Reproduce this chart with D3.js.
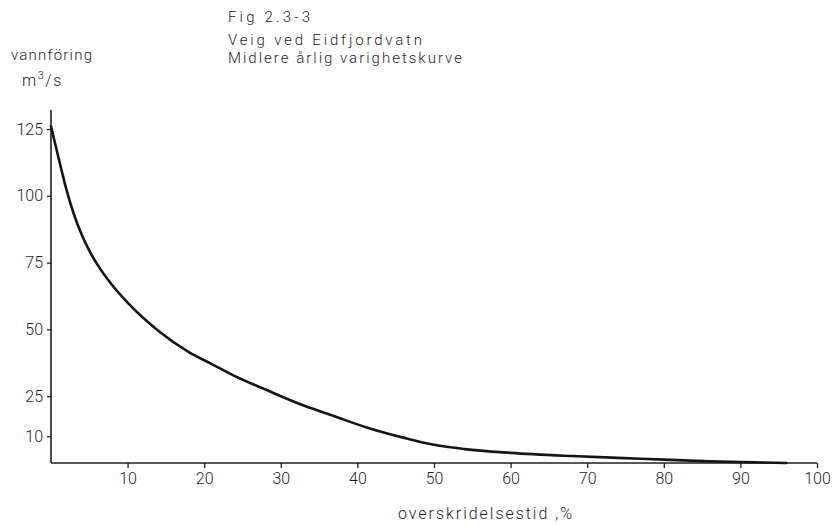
<!DOCTYPE html>
<html>
<head>
<meta charset="utf-8">
<script src="https://cdn.jsdelivr.net/npm/d3@7"></script>
<style>
  html, body { margin: 0; padding: 0; background: #fff; }
  svg { display: block; }
  text { font-family: Roboto, "DejaVu Sans", sans-serif; fill: #1e1e1e; }
</style>
</head>
<body>
<script>
// Duration curve: share of time a flow is exceeded (%) against flow (m3/s)
const exceedancePct = [0, 1, 2, 3, 4, 5, 6, 8, 10, 14, 18, 21, 24, 28, 33, 37, 41, 46, 50, 54, 60, 68, 77, 86, 96];
const flowM3s      = [126, 114, 102.5, 93, 85.5, 79.5, 74.5, 66.5, 60, 49.5, 41.5, 37, 32.5, 27.5, 21.5, 17.5, 13.5, 9.5, 6.8, 5.2, 3.8, 2.6, 1.6, 0.6, 0];

const xTicks = [10, 20, 30, 40, 50, 60, 70, 80, 90, 100];
const yTicks = [10, 25, 50, 75, 100, 125];

const titleLines = ["Fig 2.3-3", "Veig ved Eidfjordvatn", "Midlere årlig varighetskurve"];
const yLabel = "vannföring";
const xLabel = "overskridelsestid ,%";

const W = 832, H = 525;
const svg = d3.select("body").append("svg").attr("width", W).attr("height", H);

const x = d3.scaleLinear().domain([0, 100]).range([51, 817]);
const y = d3.scaleLinear().domain([0, 125]).range([463, 129]);

const ink = "#1e1e1e";

// Axes
const xAxis = d3.axisBottom(x).tickValues(xTicks).tickSize(5).tickPadding(5).tickSizeOuter(0);
const gx = svg.append("g").attr("transform", `translate(0,${y(0)})`).call(xAxis);
gx.select(".domain").remove();
gx.selectAll(".tick line").attr("stroke", ink).attr("stroke-width", 1.3);
gx.selectAll(".tick text").attr("font-size", 16).attr("font-weight", 300).attr("fill", ink);

const yAxis = d3.axisLeft(y).tickValues(yTicks).tickSize(4).tickPadding(4).tickSizeOuter(0);
const gy = svg.append("g").attr("transform", `translate(${x(0)},0)`).call(yAxis);
gy.select(".domain").remove();
gy.selectAll(".tick line").attr("stroke", ink).attr("stroke-width", 1.3);
gy.selectAll(".tick text").attr("font-size", 16).attr("font-weight", 300).attr("fill", ink);

// Axis lines
svg.append("line")
  .attr("x1", x(0)).attr("x2", x(100)).attr("y1", y(0)).attr("y2", y(0))
  .attr("stroke", ink).attr("stroke-width", 1.6);
svg.append("line")
  .attr("x1", x(0)).attr("x2", x(0)).attr("y1", 110).attr("y2", y(0))
  .attr("stroke", ink).attr("stroke-width", 1.6);

// Curve
const pts = exceedancePct.map((p, i) => [p, flowM3s[i]]);
svg.append("path")
  .datum(pts)
  .attr("fill", "none")
  .attr("stroke", "#151515")
  .attr("stroke-width", 2.6)
  .attr("stroke-linecap", "round")
  .attr("d", d3.line().x(d => x(d[0])).y(d => y(d[1])).curve(d3.curveMonotoneX));

// Lettering helper: text stretched by spacing to a fixed width
function letter(xPos, yPos, size, width, str) {
  return svg.append("text")
    .attr("x", xPos).attr("y", yPos)
    .attr("font-size", size).attr("font-weight", 300)
    .attr("textLength", width).attr("lengthAdjust", "spacing")
    .text(str);
}

// Title block
letter(228, 22, 15, 82, titleLines[0]);
letter(228, 45, 15, 194, titleLines[1]);
letter(228, 63, 15, 234, titleLines[2]);

// Y-axis label and unit
letter(11, 60, 15, 81, yLabel);
const unit = svg.append("text").attr("x", 22).attr("y", 86)
  .attr("font-size", 16).attr("font-weight", 300).attr("letter-spacing", 1.5);
unit.append("tspan").text("m");
unit.append("tspan").attr("dy", -7).attr("font-size", 11).text("3");
unit.append("tspan").attr("dy", 7).text("/s");

// X-axis label
letter(398, 519, 16, 174, xLabel);
</script>
</body>
</html>
